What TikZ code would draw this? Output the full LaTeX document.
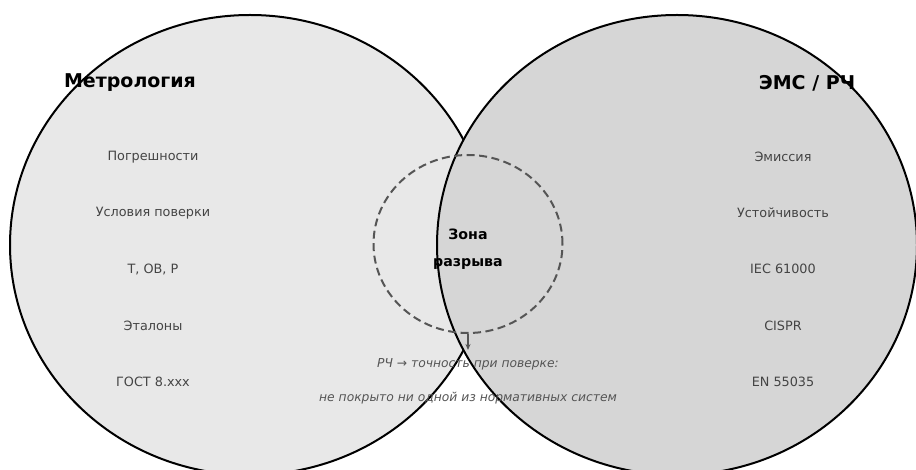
\documentclass[tikz,border=0pt]{standalone}
\usepackage{fontspec}
\setmainfont{DejaVu Sans}
\usetikzlibrary{arrows.meta,shapes.geometric}
\definecolor{leftfill}{HTML}{E8E8E8}
\definecolor{rightfill}{HTML}{D6D6D6}
\definecolor{itemgray}{HTML}{444444}
\definecolor{notegray}{HTML}{555555}
\begin{document}
\begin{tikzpicture}[x=1pt,y=-1pt,
  setcircle/.style={draw=black,line width=2pt},
  gapzone/.style={draw=notegray,dash pattern=on 8pt off 4.5pt,line width=2pt},
  titletext/.style={font=\fontsize{19}{22}\selectfont\bfseries,text=black,inner sep=0pt},
  itemtext/.style={font=\fontsize{12.8}{15}\selectfont,text=itemgray,inner sep=0pt},
  zonetext/.style={font=\fontsize{14.2}{16}\selectfont\bfseries,text=black,inner sep=0pt},
  notetext/.style={font=\fontsize{12.3}{15}\selectfont\itshape,text=notegray,inner sep=0pt},
  pointer/.style={draw=notegray,line width=1.2pt,-{Stealth[length=6pt,width=5pt]}}
]
\useasboundingbox (0,0) rectangle (916,470);
\begin{scope}
\clip (0,0) rectangle (916,470);
\fill[white] (0,0) rectangle (916,470);
\draw[setcircle,fill=leftfill] (250,245) ellipse [x radius=240pt,y radius=230pt];
\draw[setcircle,fill=rightfill] (677,245) ellipse [x radius=240pt,y radius=230pt];
\end{scope}
\node[gapzone,ellipse,minimum width=189pt,minimum height=178pt,inner sep=0pt] (gap) at (468,244) {};
\coordinate (tip) at (468,350);
\draw[pointer] (gap.south) -- (tip);

\node[titletext] (metro) at (130,83) {Метрология};
\node[titletext] (emc) at (807,83) {ЭМС / РЧ};

\node[itemtext] (l1) at (153,157) {Погрешности};
\node[itemtext] (l2) at (153,213) {Условия поверки};
\node[itemtext] (l3) at (153,269) {Т, ОВ, Р};
\node[itemtext] (l4) at (153,326) {Эталоны};
\node[itemtext] (l5) at (153,382) {ГОСТ 8.xxx};

\node[itemtext] (r1) at (783,157) {Эмиссия};
\node[itemtext] (r2) at (783,213) {Устойчивость};
\node[itemtext] (r3) at (783,269) {IEC 61000};
\node[itemtext] (r4) at (783,326) {CISPR};
\node[itemtext] (r5) at (783,382) {EN 55035};

\node[zonetext] (z1) at (468,234) {Зона};
\node[zonetext] (z2) at (468,264) {разрыва};

\node[notetext] (n1) at (468,364) {РЧ → точность при поверке:};
\node[notetext] (n2) at (468,398) {не покрыто ни одной из нормативных систем};
\end{tikzpicture}
\end{document}
